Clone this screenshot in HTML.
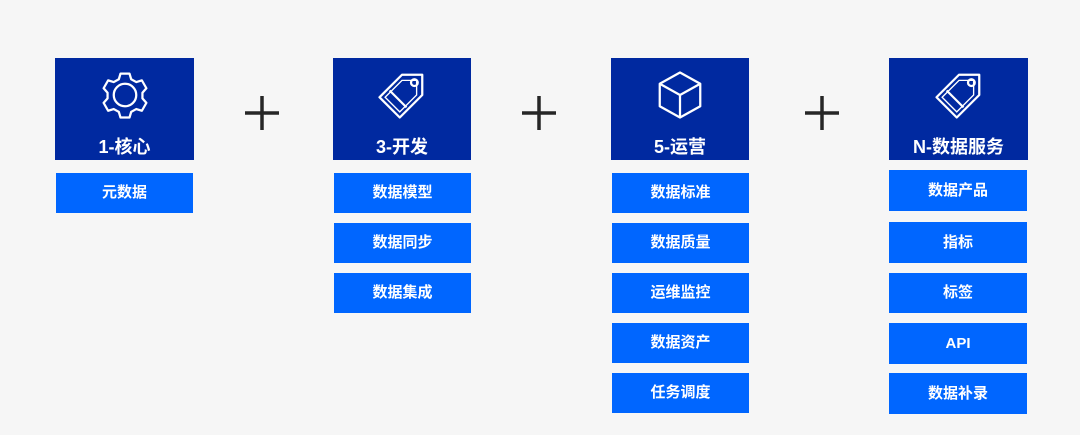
<!DOCTYPE html>
<html><head><meta charset="utf-8"><style>
body{margin:0;width:1080px;height:435px;background:#f6f6f6;position:relative;overflow:hidden;font-family:"Liberation Sans","Noto Sans CJK SC",sans-serif;}
.h{position:absolute;top:58px;height:102px;background:#0029a0;color:#fff;font-weight:bold;font-size:18px;}
.h span{position:absolute;left:0;right:0;top:77px;text-align:center;line-height:24px;}
.h svg{position:absolute;left:50%;top:10px;margin-left:-27px;}
.b{position:absolute;height:40px;background:#0066ff;color:#fff;font-weight:bold;font-size:15px;line-height:40px;text-align:center;}
.p{position:absolute;top:96px;}
</style></head><body>
<div class="h" style="left:55px;width:139px"><svg width="54" height="54" viewBox="0 0 48 48" fill="none" stroke="#fff" stroke-width="2"><path d="M20 5h8l1.5 5 4.5 2.5 5-1.5 4 7-3.5 4v5l3.5 4-4 7-5-1.5-4.5 2.5-1.5 5h-8l-1.5-5-4.5-2.5-5 1.5-4-7 3.5-4v-5l-3.5-4 4-7 5 1.5 4.5-2.5z" stroke-linejoin="round"/><circle cx="24" cy="24" r="10"/></svg><span>1-核心</span></div>
<div class="h" style="left:333px;width:138px"><svg width="54" height="54" viewBox="0 0 48 48" fill="none" stroke="#fff" stroke-width="2"><path d="M4 26L24 6h18v18L22 44z" stroke-linejoin="round"/><path d="M9 26L24 11h13v13L22 39z" stroke-width="1.2"/><circle cx="35" cy="13" r="3"/><path d="M13 20l15 15"/></svg><span>3-开发</span></div>
<div class="h" style="left:611px;width:138px"><svg width="54" height="54" viewBox="0 0 48 48" fill="none" stroke="#fff" stroke-width="2" stroke-linejoin="round"><path d="M24 4l18 10v20L24 44 6 34V14z"/><path d="M6 14l18 10 18-10M24 24v20"/></svg><span>5-运营</span></div>
<div class="h" style="left:889px;width:139px"><svg width="54" height="54" viewBox="0 0 48 48" fill="none" stroke="#fff" stroke-width="2"><path d="M4 26L24 6h18v18L22 44z" stroke-linejoin="round"/><path d="M9 26L24 11h13v13L22 39z" stroke-width="1.2"/><circle cx="35" cy="13" r="3"/><path d="M13 20l15 15"/></svg><span>N-数据服务</span></div>
<svg class="p" style="left:245px" width="34" height="34" viewBox="0 0 34 34"><path d="M0 17h34M17 0v34" stroke="#262626" stroke-width="3.5"/></svg>
<svg class="p" style="left:522px" width="34" height="34" viewBox="0 0 34 34"><path d="M0 17h34M17 0v34" stroke="#262626" stroke-width="3.5"/></svg>
<svg class="p" style="left:805px" width="34" height="34" viewBox="0 0 34 34"><path d="M0 17h34M17 0v34" stroke="#262626" stroke-width="3.5"/></svg>
<div class="b" style="left:56px;width:137px;top:173px">元数据</div>
<div class="b" style="left:334px;width:137px;top:173px">数据模型</div>
<div class="b" style="left:334px;width:137px;top:223px">数据同步</div>
<div class="b" style="left:334px;width:137px;top:273px">数据集成</div>
<div class="b" style="left:612px;width:137px;top:173px">数据标准</div>
<div class="b" style="left:612px;width:137px;top:223px">数据质量</div>
<div class="b" style="left:612px;width:137px;top:273px">运维监控</div>
<div class="b" style="left:612px;width:137px;top:323px">数据资产</div>
<div class="b" style="left:612px;width:137px;top:373px">任务调度</div>
<div class="b" style="left:889px;width:138px;top:170px;height:41px;line-height:41px">数据产品</div>
<div class="b" style="left:889px;width:138px;top:222px;height:41px;line-height:41px">指标</div>
<div class="b" style="left:889px;width:138px;top:273px">标签</div>
<div class="b" style="left:889px;width:138px;top:323px;height:41px;line-height:41px">API</div>
<div class="b" style="left:889px;width:138px;top:373px;height:41px;line-height:41px">数据补录</div>
</body></html>
